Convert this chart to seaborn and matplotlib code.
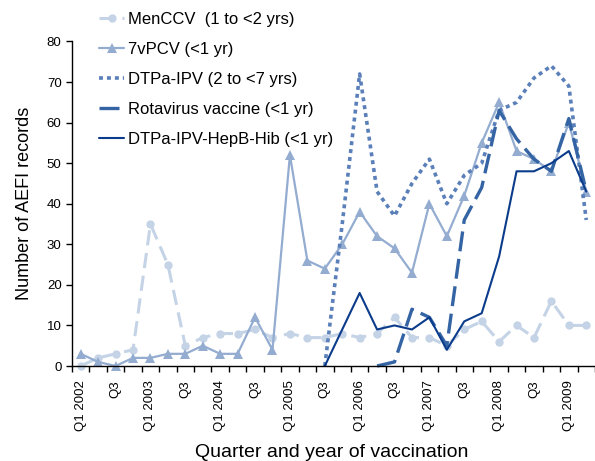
import numpy as np
import pandas as pd
import matplotlib
matplotlib.use("Agg")
import matplotlib.pyplot as plt
import seaborn as sns

nan = np.nan
quarters = list(range(30))  # Q1 2002 .. Q2 2009
tick_labels = []
for yr in range(2002, 2010):
    tick_labels += [f"Q1 {yr}", "Q3"]
tick_labels = tick_labels[:15]

menccv = [0, 2, 3, 4, 35, 25, 5, 7, 8, 8, 9, 7, 8, 7, 7, 8, 7, 8, 12, 7,
          7, 5, 9, 11, 6, 10, 7, 16, 10, 10]
pcv7 = [3, 1, 0, 2, 2, 3, 3, 5, 3, 3, 12, 4, 52, 26, 24, 30, 38, 32, 29, 23,
        40, 32, 42, 55, 65, 53, 51, 48, 60, 43]
dtpa_ipv = [nan] * 14 + [0, 35, 72, 43, 37, 45, 51, 40, 47, 50, 63, 65, 71, 74, 69, 36]
rotavirus = [nan] * 17 + [0, 1, 14, 12, 5, 36, 44, 63, 56, 51, 48, 61, 43]
hexa = [nan] * 14 + [0, 9, 18, 9, 10, 9, 12, 4, 11, 13, 27, 48, 48, 50, 53, 43]

series_names = ["MenCCV  (1 to <2 yrs)", "7vPCV (<1 yr)", "DTPa-IPV (2 to <7 yrs)",
                "Rotavirus vaccine (<1 yr)", "DTPa-IPV-HepB-Hib (<1 yr)"]
series_vals = [menccv, pcv7, dtpa_ipv, rotavirus, hexa]

sns.set_style("ticks")
plt.rcParams["font.family"] = ["Liberation Sans", "DejaVu Sans"]
plt.rcParams["text.color"] = "black"
plt.rcParams["axes.labelcolor"] = "black"
plt.rcParams["xtick.color"] = "black"
plt.rcParams["ytick.color"] = "black"

fig = plt.figure(figsize=(5.95, 4.61), dpi=100)
ax = fig.add_axes([72 / 595, 1 - 366 / 461, 1 - 72 / 595, (366 - 41.5) / 461])

styles = [
    dict(color="#c5d3e6", lw=2.2, linestyle=(0, (5, 2.5)), marker="o", markersize=6),
    dict(color="#93acd0", lw=1.6, linestyle="-", marker="^", markersize=7),
    dict(color="#5b80b9", lw=2.6, linestyle=(0, (1.1, 1.1))),
    dict(color="#3464a4", lw=2.4, linestyle=(0, (6, 2.3))),
    dict(color="#0b3c8b", lw=1.5, linestyle="-"),
]

for name, vals, st in zip(series_names, series_vals, styles):
    df = pd.DataFrame({"quarter": quarters, "count": vals}).dropna()
    kw = dict(st)
    if "marker" in kw:
        kw["markeredgecolor"] = kw["color"]
        kw["markeredgewidth"] = 0
    sns.lineplot(data=df, x="quarter", y="count", ax=ax, label=name,
                 clip_on=False, **kw)

ax.set_xlim(-0.5, 28.9)
ax.set_ylim(0, 80)
ax.set_yticks(range(0, 81, 10))
ax.set_xticks(range(0, 30, 2))
ax.set_xticklabels(tick_labels, rotation=90, fontsize=9.5)
ax.set_xticks(np.arange(-0.5, 29.6, 1), minor=True)
ax.tick_params(axis="x", which="major", length=0, pad=10, labelcolor="black")
ax.tick_params(axis="x", which="minor", length=4, width=1, direction="out", color="black")
ax.tick_params(axis="y", length=4, width=1, direction="out", labelsize=9.5,
               color="black", labelcolor="black")
for s in ["top", "right"]:
    ax.spines[s].set_visible(False)
for s in ["left", "bottom"]:
    ax.spines[s].set_color("black")
    ax.spines[s].set_linewidth(1)

ax.set_xlabel("Quarter and year of vaccination", fontsize=14, color="black")
ax.set_ylabel("Number of AEFI records", fontsize=13, color="black")
ax.xaxis.set_label_coords(0.497, -0.24)
ax.yaxis.set_label_coords(-0.074, 0.5)

leg = ax.legend(loc="upper left", bbox_to_anchor=(99 / 595, 1 - 12 / 461),
                bbox_transform=fig.transFigure, frameon=False, fontsize=12,
                borderpad=0, borderaxespad=0, labelspacing=0.9, handlelength=1.5,
                handletextpad=0.25)
for t in leg.get_texts():
    t.set_color("black")

fig.savefig("out.png", dpi=100)
